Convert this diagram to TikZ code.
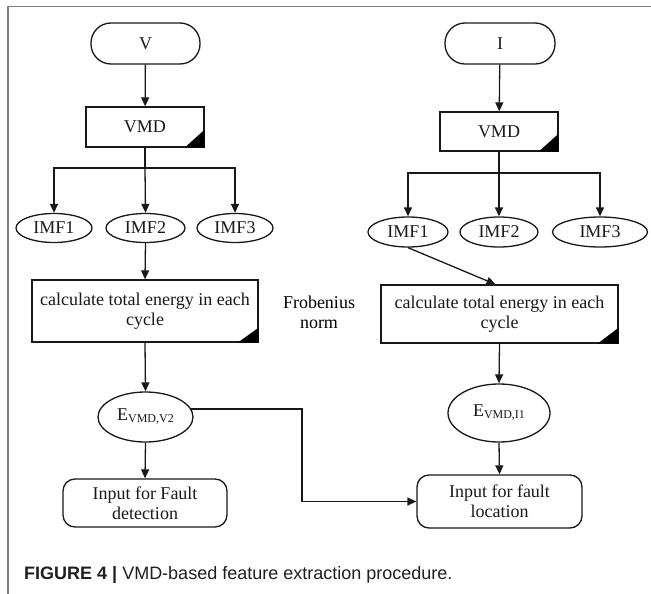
\documentclass[tikz,border=0pt]{standalone}
\usepackage{fontspec}
\setmainfont{Liberation Serif}
\newfontfamily\capfont{Liberation Sans}
\usetikzlibrary{shapes.geometric,arrows.meta}
\newcommand\mysub[1]{\raisebox{-2pt}{\fontsize{12}{12}\selectfont #1}}
\begin{document}
\begin{tikzpicture}[x=1pt,y=-1pt,
  every node/.style={font=\fontsize{18}{20}\selectfont, inner sep=0pt},
  ln/.style={line width=1.3pt, black!90},
  arr/.style={ln, -{Triangle[length=9pt,width=8pt]}},
  term/.style={ln, draw, rectangle, rounded corners=20pt, minimum height=41pt},
  pbox/.style={ln, draw, rectangle, align=center},
  ell/.style={ln, draw, ellipse},
  outbox/.style={ln, draw, rectangle, rounded corners=12pt, align=center}]
\useasboundingbox (0,0) rectangle (651,594);
\fill[white] (0,0) rectangle (651,594);
\draw[line width=1.4pt, black!50] (8,594) -- (8,6.5) -- (651,6.5);

% left column
\node[term, minimum width=109pt] (V) at (145.5,43.5) {V};
\node[pbox, minimum width=118pt, minimum height=40pt] (vmd1) at (145,127) {VMD};
\node[ell, minimum width=76pt, minimum height=29pt] (imf11) at (54,228) {IMF1};
\node[ell, minimum width=79pt, minimum height=29pt] (imf12) at (145.5,228) {IMF2};
\node[ell, minimum width=76pt, minimum height=29pt] (imf13) at (235,228) {IMF3};
\node[pbox, minimum width=226pt, minimum height=62pt] (calc1) at (145,311) {calculate total energy in each\\cycle};
\node[ell, minimum width=95pt, minimum height=50pt] (E1) at (145.5,417) {E\mysub{VMD,V2}};
\node[outbox, minimum width=164pt, minimum height=48pt] (out1) at (145,503) {Input for Fault\\detection};

% right column
\node[term, minimum width=110pt] (I) at (500,43.5) {I};
\node[pbox, minimum width=118pt, minimum height=39pt] (vmd2) at (499,131.5) {VMD};
\node[ell, minimum width=80pt, minimum height=30pt] (imf21) at (408,232) {IMF1};
\node[ell, minimum width=78pt, minimum height=30pt] (imf22) at (499,232) {IMF2};
\node[ell, minimum width=95pt, minimum height=30pt] (imf23) at (600,232) {IMF3};
\node[pbox, minimum width=237pt, minimum height=58pt] (calc2) at (499.5,314) {calculate total energy in each\\cycle};
\node[ell, minimum width=102pt, minimum height=58pt] (E2) at (499,413) {E\mysub{VMD,I1}};
\node[outbox, minimum width=165pt, minimum height=53pt] (out2) at (499.5,501.5) {Input for fault\\location};

\node[align=center] (frob) at (319,312) {Frobenius\\norm};

% black corner triangles
\fill (vmd1.south east) -- ++(-20,0) -- ++(20,-18) -- cycle;
\fill (vmd2.south east) -- ++(-20,0) -- ++(20,-18) -- cycle;
\fill (calc1.south east) -- ++(-21,0) -- ++(21,-15) -- cycle;
\fill (calc2.south east) -- ++(-21,0) -- ++(21,-16) -- cycle;

% connectors left
\coordinate (b1) at (145,168);
\draw[arr] (V) -- (vmd1);
\draw[ln] (vmd1.south) -- (b1);
\draw[arr] (b1) -| (imf11.north);
\draw[arr] (b1) -- (imf12.north);
\draw[arr] (b1) -| (imf13.north);
\draw[arr] (imf12.south) -- (calc1.north);
\draw[arr] (calc1.south) -- (E1.north);
\draw[arr] (E1.south) -- (out1.north);

% connectors right
\coordinate (b2) at (499,173);
\draw[arr] (I) -- (vmd2);
\draw[ln] (vmd2.south) -- (b2);
\draw[arr] (b2) -| (imf21.north);
\draw[arr] (b2) -- (imf22.north);
\draw[arr] (b2) -| (imf23.north);
\draw[arr] (imf21.south) -- ([xshift=-4pt]calc2.north);
\draw[arr] (calc2.south) -- (E2.north);
\draw[arr] (E2.south) -- (out2.north);

% cross connector
\coordinate (c1) at (302,501.5);
\draw[arr] (E1.10) -| (c1) -- (out2.west);

% caption
\node[anchor=base west, font=\capfont\fontsize{18}{20}\selectfont, text=black!88] (cap) at (24,579) {\textbf{FIGURE 4 |} VMD-based feature extraction procedure.};
\end{tikzpicture}
\end{document}
